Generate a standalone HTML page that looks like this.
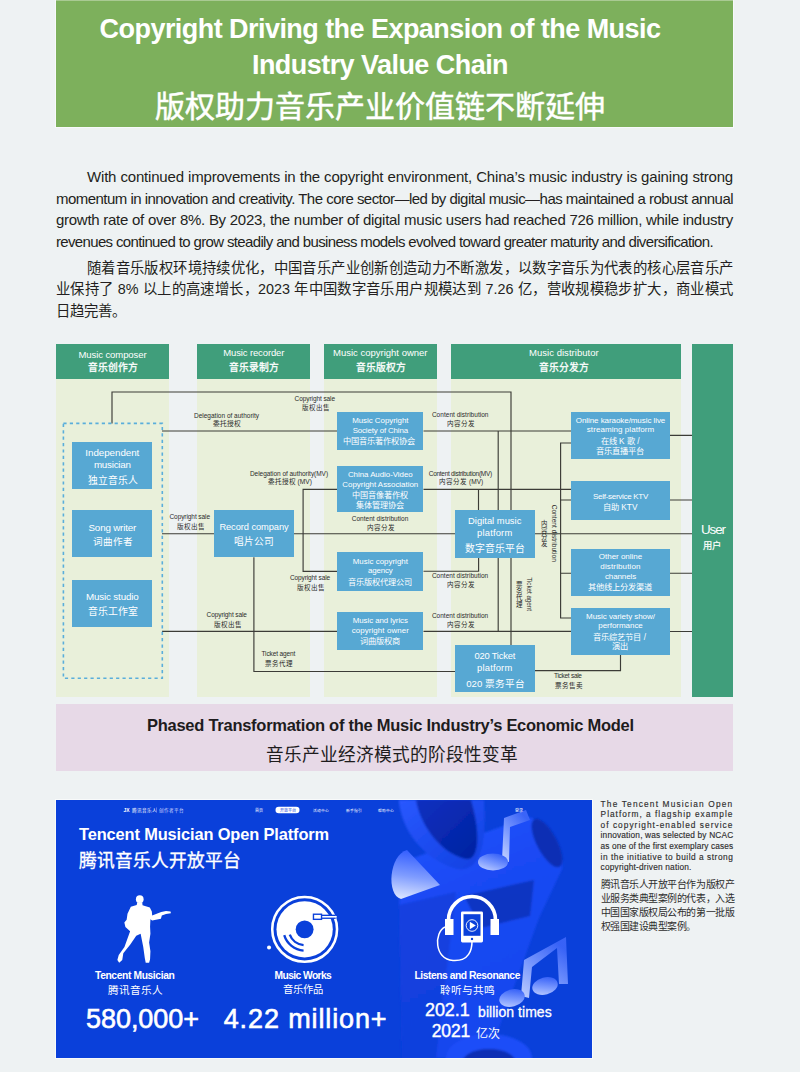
<!DOCTYPE html>
<html lang="zh-CN"><head><meta charset="utf-8">
<style>
*{margin:0;padding:0;box-sizing:border-box}
html,body{width:800px;height:1072px;overflow:hidden;background:#eef2f3;font-family:"Liberation Sans",sans-serif}
.a{position:absolute}
#title{left:56px;top:0;width:677px;height:127px;background:#7db05c;color:#fff;text-align:center;box-shadow:0 0 0 1px rgba(255,255,255,0.55)}
.t1{position:absolute;left:0;width:648px;font-weight:bold;white-space:nowrap}
.para{position:absolute;left:56px;width:677px;color:#231f20;font-size:15px;line-height:18px;white-space:nowrap;text-align:justify;text-align-last:justify}
.cn{font-size:14.36px;letter-spacing:0}
.col{position:absolute;top:344px;height:353px;background:#e9f0da}
.hdr{position:absolute;left:0;top:0;width:100%;height:35px;background:#409e7b}
.box{position:absolute;background:#57a8d3}
.tx{position:absolute;white-space:nowrap;color:#fff}
</style></head><body>

<div id="title" class="a">
  <div class="a" style="left:0;top:0;width:677px;height:1px;background:#a9ca93"></div>
  <div class="t1" style="top:14px;font-size:27px;letter-spacing:-0.55px">Copyright Driving the Expansion of the Music</div>
  <div class="t1" style="top:50px;font-size:27px;letter-spacing:-0.55px">Industry Value Chain</div>
  <div class="t1" style="top:82px;font-size:30px;font-weight:normal;-webkit-text-stroke:0.5px #fff">版权助力音乐产业价值链不断延伸</div>
</div>

<div class="para" style="top:168px;left:87px;width:646px;letter-spacing:-0.18px">With continued improvements in the copyright environment, China’s music industry is gaining strong</div>
<div class="para" style="top:190px;letter-spacing:-0.54px">momentum in innovation and creativity. The core sector—led by digital music—has maintained a robust annual</div>
<div class="para" style="top:211px;letter-spacing:-0.28px">growth rate of over 8%. By 2023, the number of digital music users had reached 726 million, while industry</div>
<div class="para" style="top:233px;width:657px;letter-spacing:-0.66px">revenues continued to grow steadily and business models evolved toward greater maturity and diversification.</div>
<div class="para cn" style="top:259px;left:87px;width:646px">随着音乐版权环境持续优化，中国音乐产业创新创造动力不断激发，以数字音乐为代表的核心层音乐产</div>
<div class="para cn" style="top:280px">业保持了 8% 以上的高速增长，2023 年中国数字音乐用户规模达到 7.26 亿，营收规模稳步扩大，商业模式</div>
<div class="para cn" style="top:302px;text-align-last:left">日趋完善。</div>

<!-- diagram columns -->
<div class="col" style="left:56px;width:113px"><div class="hdr"></div></div>
<div class="col" style="left:197px;width:113px"><div class="hdr"></div></div>
<div class="col" style="left:323.5px;width:113.5px"><div class="hdr"></div></div>
<div class="col" style="left:450.5px;width:230.7px"><div class="hdr"></div></div>
<div class="a" style="left:692px;top:344px;width:41px;height:353px;background:#409e7b"></div>

<svg class="a" style="left:0;top:0" width="800" height="1072" viewBox="0 0 800 1072">
<g stroke="#3c3c37" stroke-width="1.15" fill="none">
<path d="M112 423.5V392H511V510.5"/>
<path d="M162 431H337.5M423.5 431H571"/>
<path d="M498.2 431V510.5"/>
<path d="M337.5 489.4H303.1V571.4H337.5"/>
<path d="M423.5 489.4H571"/>
<path d="M478.5 489.4V510.5"/>
<path d="M162 533.7H214.5M293.8 533.7H455M534.9 533.7H692"/>
<path d="M571 443H560.6V618H571M560.6 500H571M560.6 573.2H571"/>
<path d="M478.6 557.5V571.2H423.5"/>
<path d="M498.2 557.5V631.4"/>
<path d="M423.5 631.4H571"/>
<path d="M511 557.5V645.5"/>
<path d="M162 631.3H337.5"/>
<path d="M253.9 557.3V671.5H455"/>
<path d="M534.9 670.6H620.5V654.6"/>
<path d="M669.9 435.4H692M669.9 500H692M669.9 573.2H692M669.9 631.5H692"/>
</g>
<rect x="63.4" y="423.4" width="98.9" height="254.9" fill="none" stroke="#5aaedb" stroke-width="1.6" stroke-dasharray="3.2 3.2"/>
</svg>

<div class="box" style="left:72.4px;top:442.2px;width:79.8px;height:46.7px"></div>
<div class="box" style="left:72.4px;top:510.4px;width:79.8px;height:47px"></div>
<div class="box" style="left:72.4px;top:579.9px;width:79.8px;height:46.7px"></div>
<div class="box" style="left:214.3px;top:510.4px;width:79.5px;height:46.9px"></div>
<div class="box" style="left:337.2px;top:411.5px;width:86.3px;height:38.6px"></div>
<div class="box" style="left:337.2px;top:466.2px;width:86.3px;height:46.3px"></div>
<div class="box" style="left:337.2px;top:551.9px;width:86.3px;height:38.8px"></div>
<div class="box" style="left:337.2px;top:611.9px;width:86.3px;height:38.6px"></div>
<div class="box" style="left:454.7px;top:510.4px;width:80.2px;height:47.2px"></div>
<div class="box" style="left:454.7px;top:645.4px;width:80.2px;height:46.9px"></div>
<div class="box" style="left:571.1px;top:411.9px;width:98.8px;height:46.7px"></div>
<div class="box" style="left:571.1px;top:481.3px;width:98.8px;height:38.6px"></div>
<div class="box" style="left:571.1px;top:548.9px;width:98.8px;height:46.8px"></div>
<div class="box" style="left:571.1px;top:607.7px;width:98.8px;height:46.9px"></div>

<div class="tx" style="left:78.50px;top:349.76px;font-size:9.5px;line-height:9.5px;letter-spacing:-0.083px">Music composer</div>
<div class="tx" style="left:88.12px;top:362.73px;font-size:9.75px;line-height:9.75px;-webkit-text-stroke:0.3px #fff">音乐创作方</div>
<div class="tx" style="left:223.25px;top:347.96px;font-size:9.5px;line-height:9.5px;letter-spacing:-0.130px">Music recorder</div>
<div class="tx" style="left:229.38px;top:362.73px;font-size:9.75px;line-height:9.75px;-webkit-text-stroke:0.3px #fff">音乐录制方</div>
<div class="tx" style="left:333.00px;top:347.86px;font-size:9.5px;line-height:9.5px">Music copyright owner</div>
<div class="tx" style="left:355.88px;top:362.73px;font-size:9.75px;line-height:9.75px;-webkit-text-stroke:0.3px #fff">音乐版权方</div>
<div class="tx" style="left:529.00px;top:347.96px;font-size:9.5px;line-height:9.5px;letter-spacing:0.032px">Music distributor</div>
<div class="tx" style="left:539.48px;top:362.73px;font-size:9.75px;line-height:9.75px;-webkit-text-stroke:0.3px #fff">音乐分发方</div>
<div class="tx" style="left:700.95px;top:523.16px;font-size:13.4px;line-height:13.4px;letter-spacing:-1.048px">User</div>
<div class="tx" style="left:703.15px;top:541.62px;font-size:9.25px;line-height:9.25px;-webkit-text-stroke:0.2px #fff">用户</div>
<div class="tx" style="left:85.35px;top:447.60px;font-size:9.8px;line-height:9.8px;letter-spacing:-0.054px">Independent</div>
<div class="tx" style="left:93.95px;top:460.40px;font-size:9.8px;line-height:9.8px;letter-spacing:-0.246px">musician</div>
<div class="tx" style="left:87.60px;top:475.58px;font-size:9.76px;line-height:9.76px">独立音乐人</div>
<div class="tx" style="left:88.50px;top:523.00px;font-size:9.8px;line-height:9.8px;letter-spacing:-0.179px">Song writer</div>
<div class="tx" style="left:92.80px;top:537.29px;font-size:9.6px;line-height:9.6px">词曲作者</div>
<div class="tx" style="left:86.10px;top:592.20px;font-size:9.8px;line-height:9.8px;letter-spacing:-0.172px">Music studio</div>
<div class="tx" style="left:87.55px;top:606.77px;font-size:9.9px;line-height:9.9px">音乐工作室</div>
<div class="tx" style="left:219.40px;top:522.73px;font-size:9.3px;line-height:9.3px;letter-spacing:-0.079px">Record company</div>
<div class="tx" style="left:234.20px;top:537.45px;font-size:9.7px;line-height:9.7px">唱片公司</div>
<div class="tx" style="left:352.15px;top:417.31px;font-size:7.9px;line-height:7.9px;letter-spacing:-0.016px">Music Copyright</div>
<div class="tx" style="left:352.65px;top:427.41px;font-size:7.9px;line-height:7.9px;letter-spacing:-0.133px">Society of China</div>
<div class="tx" style="left:343.45px;top:438.33px;font-size:8.2px;line-height:8.2px">中国音乐著作权协会</div>
<div class="tx" style="left:347.95px;top:470.71px;font-size:7.9px;line-height:7.9px;letter-spacing:-0.029px">China Audio-Video</div>
<div class="tx" style="left:342.35px;top:480.81px;font-size:7.9px;line-height:7.9px">Copyright Association</div>
<div class="tx" style="left:351.86px;top:491.85px;font-size:8.14px;line-height:8.14px">中国音像著作权</div>
<div class="tx" style="left:355.99px;top:501.56px;font-size:8.12px;line-height:8.12px">集体管理协会</div>
<div class="tx" style="left:352.65px;top:557.91px;font-size:7.9px;line-height:7.9px;letter-spacing:0.035px">Music copyright</div>
<div class="tx" style="left:368.00px;top:567.41px;font-size:7.9px;line-height:7.9px;letter-spacing:-0.129px">agency</div>
<div class="tx" style="left:347.55px;top:578.83px;font-size:8.2px;line-height:8.2px">音乐版权代理公司</div>
<div class="tx" style="left:352.75px;top:617.31px;font-size:7.9px;line-height:7.9px;letter-spacing:-0.062px">Music and lyrics</div>
<div class="tx" style="left:351.65px;top:627.41px;font-size:7.9px;line-height:7.9px;letter-spacing:0.109px">copyright owner</div>
<div class="tx" style="left:359.85px;top:638.33px;font-size:8.2px;line-height:8.2px">词曲版权商</div>
<div class="tx" style="left:468.10px;top:516.14px;font-size:9.4px;line-height:9.4px;letter-spacing:0.009px">Digital music</div>
<div class="tx" style="left:477.10px;top:528.04px;font-size:9.4px;line-height:9.4px;letter-spacing:0.181px">platform</div>
<div class="tx" style="left:465.31px;top:543.95px;font-size:9.83px;line-height:9.83px">数字音乐平台</div>
<div class="tx" style="left:474.40px;top:651.14px;font-size:9.4px;line-height:9.4px;letter-spacing:-0.205px">020 Ticket</div>
<div class="tx" style="left:477.10px;top:663.04px;font-size:9.4px;line-height:9.4px;letter-spacing:0.181px">platform</div>
<div class="tx" style="left:466.26px;top:679.04px;font-size:9.6px;line-height:9.6px">020 票务平台</div>
<div class="tx" style="left:575.80px;top:416.83px;font-size:8px;line-height:8px;letter-spacing:-0.070px">Online karaoke/music live</div>
<div class="tx" style="left:586.80px;top:426.43px;font-size:8px;line-height:8px;letter-spacing:0.064px">streaming platform</div>
<div class="tx" style="left:600.79px;top:437.91px;font-size:8.25px;line-height:8.25px">在线 K 歌 /</div>
<div class="tx" style="left:595.75px;top:447.51px;font-size:8.25px;line-height:8.25px">音乐直播平台</div>
<div class="tx" style="left:593.00px;top:493.13px;font-size:8px;line-height:8px;letter-spacing:-0.286px">Self-service KTV</div>
<div class="tx" style="left:603.08px;top:503.91px;font-size:8.25px;line-height:8.25px">自助 KTV</div>
<div class="tx" style="left:598.85px;top:553.23px;font-size:8px;line-height:8px;letter-spacing:-0.024px">Other online</div>
<div class="tx" style="left:600.35px;top:563.23px;font-size:8px;line-height:8px;letter-spacing:0.134px">distribution</div>
<div class="tx" style="left:604.95px;top:573.13px;font-size:8px;line-height:8px;letter-spacing:-0.115px">channels</div>
<div class="tx" style="left:587.50px;top:584.41px;font-size:8.25px;line-height:8.25px">其他线上分发渠道</div>
<div class="tx" style="left:586.10px;top:612.73px;font-size:8px;line-height:8px;letter-spacing:-0.052px">Music variety show/</div>
<div class="tx" style="left:598.25px;top:622.33px;font-size:8px;line-height:8px;letter-spacing:-0.037px">performance</div>
<div class="tx" style="left:593.46px;top:633.61px;font-size:8.25px;line-height:8.25px">音乐综艺节目 /</div>
<div class="tx" style="left:612.25px;top:643.41px;font-size:8.25px;line-height:8.25px">演出</div>
<div class="tx" style="left:294.60px;top:395.50px;font-size:6.5px;line-height:6.5px;letter-spacing:-0.082px;color:#2b2b2b">Copyright sale</div>
<div class="tx" style="left:301.80px;top:404.69px;font-size:6.5px;line-height:6.5px;color:#2b2b2b">版权出售</div>
<div class="tx" style="left:194.00px;top:412.50px;font-size:6.5px;line-height:6.5px;color:#2b2b2b">Delegation of authority</div>
<div class="tx" style="left:213.00px;top:421.39px;font-size:6.75px;line-height:6.75px;color:#2b2b2b">委托授权</div>
<div class="tx" style="left:249.95px;top:470.50px;font-size:6.5px;line-height:6.5px;letter-spacing:-0.038px;color:#2b2b2b">Delegation of authority(MV)</div>
<div class="tx" style="left:267.74px;top:479.35px;font-size:6.6px;line-height:6.6px;color:#2b2b2b">委托授权 (MV)</div>
<div class="tx" style="left:351.70px;top:515.50px;font-size:6.5px;line-height:6.5px;letter-spacing:0.030px;color:#2b2b2b">Content distribution</div>
<div class="tx" style="left:366.90px;top:524.77px;font-size:6.55px;line-height:6.55px;color:#2b2b2b">内容分发</div>
<div class="tx" style="left:169.50px;top:514.10px;font-size:6.5px;line-height:6.5px;letter-spacing:-0.075px;color:#2b2b2b">Copyright sale</div>
<div class="tx" style="left:176.55px;top:523.85px;font-size:6.6px;line-height:6.6px;color:#2b2b2b">版权出售</div>
<div class="tx" style="left:290.00px;top:575.00px;font-size:6.5px;line-height:6.5px;letter-spacing:-0.111px;color:#2b2b2b">Copyright sale</div>
<div class="tx" style="left:296.80px;top:584.65px;font-size:6.6px;line-height:6.6px;color:#2b2b2b">版权出售</div>
<div class="tx" style="left:206.60px;top:612.10px;font-size:6.5px;line-height:6.5px;letter-spacing:-0.089px;color:#2b2b2b">Copyright sale</div>
<div class="tx" style="left:213.55px;top:621.55px;font-size:6.6px;line-height:6.6px;color:#2b2b2b">版权出售</div>
<div class="tx" style="left:261.50px;top:651.30px;font-size:6.5px;line-height:6.5px;letter-spacing:-0.114px;color:#2b2b2b">Ticket agent</div>
<div class="tx" style="left:265.40px;top:661.19px;font-size:6.5px;line-height:6.5px;color:#2b2b2b">票务代理</div>
<div class="tx" style="left:431.90px;top:412.00px;font-size:6.5px;line-height:6.5px;letter-spacing:0.030px;color:#2b2b2b">Content distribution</div>
<div class="tx" style="left:447.10px;top:420.97px;font-size:6.55px;line-height:6.55px;color:#2b2b2b">内容分发</div>
<div class="tx" style="left:428.75px;top:470.75px;font-size:6.5px;line-height:6.5px;letter-spacing:-0.291px;color:#2b2b2b">Content distribution(MV)</div>
<div class="tx" style="left:439.20px;top:479.37px;font-size:6.55px;line-height:6.55px;color:#2b2b2b">内容分发 (MV)</div>
<div class="tx" style="left:431.90px;top:573.00px;font-size:6.5px;line-height:6.5px;letter-spacing:0.015px;color:#2b2b2b">Content distribution</div>
<div class="tx" style="left:446.95px;top:582.27px;font-size:6.55px;line-height:6.55px;color:#2b2b2b">内容分发</div>
<div class="tx" style="left:431.90px;top:612.60px;font-size:6.5px;line-height:6.5px;letter-spacing:0.015px;color:#2b2b2b">Content distribution</div>
<div class="tx" style="left:446.95px;top:622.07px;font-size:6.55px;line-height:6.55px;color:#2b2b2b">内容分发</div>
<div class="tx" style="left:554.00px;top:673.40px;font-size:6.5px;line-height:6.5px;letter-spacing:-0.284px;color:#2b2b2b">Ticket sale</div>
<div class="tx" style="left:554.65px;top:683.15px;font-size:6.6px;line-height:6.6px;color:#2b2b2b">票务售卖</div>
<div class="tx" style="left:524.75px;top:530.25px;width:57.15px;font-size:6.5px;line-height:6.5px;letter-spacing:0.055px;color:#2b2b2b;transform:rotate(90deg);transform-origin:28.55px 3.25px">Content distribution</div>
<div class="tx" style="left:540.69px;top:521.43px;font-size:6.42px;line-height:6.42px;color:#2b2b2b">内</div>
<div class="tx" style="left:540.69px;top:527.85px;font-size:6.42px;line-height:6.42px;color:#2b2b2b">容</div>
<div class="tx" style="left:540.69px;top:534.27px;font-size:6.42px;line-height:6.42px;color:#2b2b2b">分</div>
<div class="tx" style="left:540.69px;top:540.69px;font-size:6.42px;line-height:6.42px;color:#2b2b2b">发</div>
<div class="tx" style="left:511.80px;top:591.35px;width:33.64px;font-size:6.3px;line-height:6.3px;letter-spacing:-0.040px;color:#2b2b2b;transform:rotate(90deg);transform-origin:16.80px 3.15px">Ticket agent</div>
<div class="tx" style="left:515.65px;top:582.14px;font-size:6.5px;line-height:6.5px;color:#2b2b2b">票</div>
<div class="tx" style="left:515.65px;top:588.64px;font-size:6.5px;line-height:6.5px;color:#2b2b2b">务</div>
<div class="tx" style="left:515.65px;top:595.14px;font-size:6.5px;line-height:6.5px;color:#2b2b2b">代</div>
<div class="tx" style="left:515.65px;top:601.64px;font-size:6.5px;line-height:6.5px;color:#2b2b2b">理</div>

<div class="a" style="left:56px;top:704.3px;width:677px;height:66.4px;background:#e7d9e7"></div>
<div class="tx" style="left:147.00px;top:716.78px;font-size:16.5px;line-height:16.5px;letter-spacing:-0.266px;color:#1e1c1d;font-weight:bold">Phased Transformation of the Music Industry’s Economic Model</div>
<div class="tx" style="left:266.25px;top:746.66px;font-size:17.7px;line-height:17.7px;color:#1e1c1d">音乐产业经济模式的阶段性变革</div>
<div class="a" style="left:56px;top:800px;width:536px;height:258px;background:#0a40da;overflow:hidden;box-shadow:0 0 0 1px rgba(255,255,255,0.6)"><svg width="536" height="258" viewBox="0 0 536 258" style="position:absolute;left:0;top:0">
<defs><filter id="soft" x="-20%" y="-20%" width="140%" height="140%"><feGaussianBlur stdDeviation="1.3"/></filter>
<linearGradient id="gTube" x1="0" y1="0" x2="0" y2="1"><stop offset="0" stop-color="#2e5cff"/><stop offset="0.45" stop-color="#1848f0"/><stop offset="1" stop-color="#0a32c4"/></linearGradient>
<linearGradient id="gTube2" x1="0" y1="0" x2="1" y2="0"><stop offset="0" stop-color="#0c36cc"/><stop offset="0.5" stop-color="#1d4cf6"/><stop offset="1" stop-color="#0b34c8"/></linearGradient>
<radialGradient id="gCap" cx="0.5" cy="0.5" r="0.5"><stop offset="0" stop-color="#0628a8"/><stop offset="1" stop-color="#0d3ad8"/></radialGradient>
<linearGradient id="gCone" x1="0.2" y1="0" x2="0.05" y2="1"><stop offset="0" stop-color="#3660ff"/><stop offset="0.5" stop-color="#7f9cff"/><stop offset="1" stop-color="#e2eaff"/></linearGradient>
<linearGradient id="gNote" x1="0" y1="1" x2="0.6" y2="0"><stop offset="0" stop-color="#c9d6ff"/><stop offset="0.5" stop-color="#7e9cff"/><stop offset="1" stop-color="#3a64f8"/></linearGradient>
<linearGradient id="gRing" x1="0" y1="0" x2="1" y2="1"><stop offset="0" stop-color="#2a58ff"/><stop offset="1" stop-color="#1040e0"/></linearGradient>
<linearGradient id="gLow" x1="0" y1="0" x2="0" y2="1"><stop offset="0" stop-color="#0c34c8"/><stop offset="0.45" stop-color="#1e4cf6"/><stop offset="0.8" stop-color="#2a58ff"/><stop offset="1" stop-color="#1440dc"/></linearGradient><linearGradient id="gElbow" x1="0" y1="0" x2="0.3" y2="1"><stop offset="0" stop-color="#2656ff"/><stop offset="0.35" stop-color="#1a4af4"/><stop offset="1" stop-color="#1646ee"/></linearGradient><linearGradient id="gIn" x1="0" y1="0" x2="1" y2="1"><stop offset="0" stop-color="#0a30c0"/><stop offset="1" stop-color="#0422a0"/></linearGradient></defs>
<!-- top ring -->
<g filter="url(#soft)">
<!-- elbow tube -->
<path d="M346 62 L473 17 C495 25 510 55 506 69 L483 118 L432 258 L346 258 L343 105 Z" fill="url(#gElbow)"/>
<path d="M343 105 L400 92 L380 258 L346 258 Z" fill="#0c38cc" opacity="0.5"/>
<path d="M408 96 L478 80 L474 116 L425 128 Z" fill="#0a2cae" opacity="0.7"/>
<ellipse cx="491" cy="43" rx="10" ry="27" transform="rotate(-28 491 43)" fill="#0a2eb4"/>
<!-- ring -->
<path d="M342.75 0 C345 28 365 58 398 68 C418 74 432 58 428 0 Z" fill="url(#gRing)"/>
<path d="M360 0 C364 25 385 54 410 59 C424 61 424 30 415 0 Z" fill="url(#gIn)"/>
<!-- bottom ring -->
<ellipse cx="433" cy="258" rx="43" ry="24" fill="#1e4ef8"/>
<ellipse cx="433" cy="263" rx="27" ry="14" fill="#0a2db4"/>
</g>
<!-- cone -->
<path d="M351 50 C333 55 330 95 345 99 L384 85 Z" fill="url(#gCone)"/>
<!-- note 1 -->
<path d="M446 60 L448 18 L470 10 L474 20 L454 27 L453 62 Z" fill="url(#gNote)"/>
<ellipse cx="437" cy="62" rx="15" ry="8.5" fill="url(#gNote)"/>
<!-- double note -->
<path d="M465 196 L468 160 L510 137 L512 184 L503 184 L501 148 L476 167 L473 198 Z" fill="url(#gNote)" opacity="0.95"/>
<ellipse cx="456" cy="198" rx="13" ry="8.5" transform="rotate(-15 456 198)" fill="url(#gNote)"/>
<ellipse cx="489" cy="186" rx="13" ry="8.5" transform="rotate(-15 489 186)" fill="url(#gNote)"/>
<!-- nav -->
<g fill="#fff">
<text x="67.5" y="12" font-size="5" font-weight="bold" font-family="Liberation Sans">JX</text>
<text x="75.5" y="12" font-size="4.6">腾讯音乐人</text>
<rect x="100.5" y="7.5" width="0.5" height="5" fill="#9fb3ff"/>
<text x="103" y="12" font-size="4.6" fill="#cfd9ff">创作者平台</text>
<text x="198.5" y="12" font-size="4">首页</text>
<rect x="219.5" y="6.75" width="24" height="6.5" rx="3.25"/>
<text x="223.5" y="11.6" font-size="4" fill="#0a40da">开放平台</text>
<text x="257" y="12" font-size="3.75">活动中心</text>
<text x="289.5" y="12" font-size="3.75">新手指引</text>
<text x="322" y="12" font-size="3.75">帮助中心</text>
<text x="459" y="12" font-size="4">登录</text>
</g>
<!-- guitarist: origin (54,90) scale 1/11.43 -->
<g transform="translate(54 90) scale(0.0875)" fill="#fff">
<circle cx="340" cy="105" r="44"/>
<path d="M312 140 L368 140 L372 175 L455 200 L478 245 L482 290 L585 252 L640 240 L692 245 L696 265 L640 275 L592 292 L582 328 L482 348 L462 335 L458 420 L462 500 L447 600 L462 700 L458 790 L447 832 L408 832 L398 780 L380 650 L350 500 L300 522 L232 622 L152 722 L140 800 L105 832 L84 800 L100 742 L165 650 L230 470 L176 424 L164 372 L190 340 L200 270 L238 192 L305 170 Z"/>
</g>
<!-- vinyl: origin (204,90) scale 1/9.41 -->
<g transform="translate(204 90) scale(0.10627)">
<circle cx="420" cy="370" r="305" fill="none" stroke="#fff" stroke-width="24"/>
<circle cx="420" cy="370" r="265" fill="#fff"/>
<circle cx="420" cy="370" r="84" fill="#0a40da"/>
<path d="M280 420 A150 150 0 0 0 410 518" fill="none" stroke="#0a40da" stroke-width="22"/>
<path d="M228 425 A205 205 0 0 0 410 570" fill="none" stroke="#0a40da" stroke-width="22"/>
<path d="M577 252 L712 252" stroke="#0a40da" stroke-width="40"/>
<path d="M560 252 L722 252" stroke="#fff" stroke-width="15"/>
<rect x="503" y="228" width="76" height="48" fill="#fff" stroke="#0a40da" stroke-width="13"/>
<circle cx="85" cy="542" r="19" fill="#fff"/>
</g>
<!-- headphones: origin (374,85) scale 0.1 -->
<g transform="translate(374 85) scale(0.1)" fill="#fff">
<path d="M185 350 A235 235 0 0 1 655 350" fill="none" stroke="#fff" stroke-width="36"/>
<rect x="150" y="340" width="85" height="160"/>
<rect x="605" y="340" width="85" height="160"/>
<rect x="310" y="265" width="220" height="310" rx="14"/>
<rect x="335" y="292" width="170" height="216" fill="#0a40da"/>
<circle cx="420" cy="540" r="12" fill="#0a40da"/>
<circle cx="420" cy="405" r="58" fill="none" stroke="#fff" stroke-width="9"/>
<path d="M398 368 L398 442 L458 405 Z"/>
<path d="M150 420 C40 470 40 745 230 755 C390 765 422 650 420 552" fill="none" stroke="#fff" stroke-width="15"/>
</g>
</svg>
</div>
<div class="tx" style="left:79.00px;top:826.12px;font-size:16.4px;line-height:16.4px;letter-spacing:-0.126px;font-weight:bold">Tencent Musician Open Platform</div>
<div class="tx" style="left:79.00px;top:852.56px;font-size:17.7px;line-height:17.7px;-webkit-text-stroke:0.35px #fff">腾讯音乐人开放平台</div>
<div class="tx" style="left:95.00px;top:970.88px;font-size:10.3px;line-height:10.3px;letter-spacing:-0.391px;font-weight:bold">Tencent Musician</div>
<div class="tx" style="left:108.00px;top:985.40px;font-size:10.6px;line-height:10.6px">腾讯音乐人</div>
<div class="tx" style="left:274.52px;top:971.28px;font-size:10.3px;line-height:10.3px;letter-spacing:-0.599px;font-weight:bold">Music Works</div>
<div class="tx" style="left:282.50px;top:985.27px;font-size:10.3px;line-height:10.3px">音乐作品</div>
<div class="tx" style="left:414.45px;top:970.88px;font-size:10.3px;line-height:10.3px;letter-spacing:-0.455px;font-weight:bold">Listens and Resonance</div>
<div class="tx" style="left:440.45px;top:985.26px;font-size:10.7px;line-height:10.7px">聆听与共鸣</div>
<div class="tx" style="left:86.00px;top:1005.54px;font-size:27px;line-height:27px;letter-spacing:-0.046px;-webkit-text-stroke:0.6px #fff">580,000+</div>
<div class="tx" style="left:223.73px;top:1005.89px;font-size:27px;line-height:27px;letter-spacing:0.878px;-webkit-text-stroke:0.6px #fff">4.22 million+</div>
<div class="tx" style="left:425.00px;top:1001.46px;font-size:18px;line-height:18px;letter-spacing:-0.089px;-webkit-text-stroke:0.4px #fff">202.1</div>
<div class="tx" style="left:478.05px;top:1004.85px;font-size:14px;line-height:14px;letter-spacing:0.043px;-webkit-text-stroke:0.3px #fff">billion times</div>
<div class="tx" style="left:431.70px;top:1023.09px;font-size:17.5px;line-height:17.5px;letter-spacing:-0.133px;-webkit-text-stroke:0.4px #fff">2021</div>
<div class="tx" style="left:475.90px;top:1027.96px;font-size:12px;line-height:12px">亿次</div>
<div class="tx" style="left:600.60px;top:799.57px;font-size:8.3px;line-height:8.3px;letter-spacing:1.184px;color:#2e2e2e;width:133px;-webkit-text-stroke:0.15px #2e2e2e">The Tencent Musician Open</div>
<div class="tx" style="left:600.60px;top:810.07px;font-size:8.3px;line-height:8.3px;letter-spacing:1.003px;color:#2e2e2e;width:133px;-webkit-text-stroke:0.15px #2e2e2e">Platform, a flagship example</div>
<div class="tx" style="left:600.60px;top:820.77px;font-size:8.3px;line-height:8.3px;letter-spacing:1.035px;color:#2e2e2e;width:133px;-webkit-text-stroke:0.15px #2e2e2e">of copyright-enabled service</div>
<div class="tx" style="left:600.60px;top:831.47px;font-size:8.3px;line-height:8.3px;letter-spacing:0.171px;color:#2e2e2e;width:133px;-webkit-text-stroke:0.15px #2e2e2e">innovation, was selected by NCAC</div>
<div class="tx" style="left:600.60px;top:842.37px;font-size:8.3px;line-height:8.3px;letter-spacing:0.130px;color:#2e2e2e;width:133px;-webkit-text-stroke:0.15px #2e2e2e">as one of the first exemplary cases</div>
<div class="tx" style="left:600.60px;top:852.67px;font-size:8.3px;line-height:8.3px;letter-spacing:0.538px;color:#2e2e2e;width:133px;-webkit-text-stroke:0.15px #2e2e2e">in the initiative to build a strong</div>
<div class="tx" style="left:600.60px;top:863.37px;font-size:8.3px;line-height:8.3px;letter-spacing:0.197px;color:#2e2e2e;-webkit-text-stroke:0.15px #2e2e2e">copyright-driven nation.</div>
<div class="tx" style="left:600.60px;top:880.03px;font-size:9.49px;line-height:9.49px;color:#2e2e2e;font-size:9.95px;letter-spacing:-0.46px">腾讯音乐人开放平台作为版权产</div>
<div class="tx" style="left:600.60px;top:893.83px;font-size:9.49px;line-height:9.49px;color:#2e2e2e;font-size:9.95px;letter-spacing:-0.46px">业服务类典型案例的代表，入选</div>
<div class="tx" style="left:600.60px;top:908.13px;font-size:9.49px;line-height:9.49px;color:#2e2e2e;font-size:9.95px;letter-spacing:-0.46px">中国国家版权局公布的第一批版</div>
<div class="tx" style="left:600.60px;top:921.83px;font-size:9.49px;line-height:9.49px;color:#2e2e2e;font-size:9.95px;letter-spacing:-0.46px">权强国建设典型案例。</div>
</body></html>
